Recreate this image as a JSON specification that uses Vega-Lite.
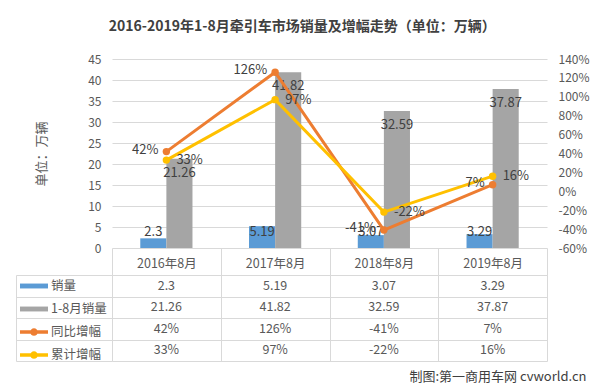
{
  "$schema": "https://vega.github.io/schema/vega-lite/v6.json",
  "padding": {"left": 15, "top": 20, "right": 5, "bottom": 2},
  "background": "white",
  "config": {
    "font": "Noto Sans CJK SC",
    "locale": {"number": {"decimal": ".", "thousands": ",", "grouping": [3], "currency": ["$", ""], "minus": "-"}},
    "view": {"stroke": null},
    "axis": {"labelColor": "#595959", "labelFontSize": 12, "domain": false, "ticks": false, "gridColor": "#d9d9d9", "labelOverlap": false}
  },
  "title": {"text": "2016-2019年1-8月牵引车市场销量及增幅走势（单位：万辆）", "fontSize": 14, "fontWeight": "bold", "color": "#404040", "anchor": "middle", "offset": 19},
  "datasets": {
    "d": [
      {"cat": "2016年8月", "series": "销量", "v": 2.3},
      {"cat": "2017年8月", "series": "销量", "v": 5.19},
      {"cat": "2018年8月", "series": "销量", "v": 3.07},
      {"cat": "2019年8月", "series": "销量", "v": 3.29},
      {"cat": "2016年8月", "series": "1-8月销量", "v": 21.26},
      {"cat": "2017年8月", "series": "1-8月销量", "v": 41.82},
      {"cat": "2018年8月", "series": "1-8月销量", "v": 32.59},
      {"cat": "2019年8月", "series": "1-8月销量", "v": 37.87},
      {"cat": "2016年8月", "series": "同比增幅", "v": 0.42},
      {"cat": "2017年8月", "series": "同比增幅", "v": 1.26},
      {"cat": "2018年8月", "series": "同比增幅", "v": -0.41},
      {"cat": "2019年8月", "series": "同比增幅", "v": 0.07},
      {"cat": "2016年8月", "series": "累计增幅", "v": 0.33},
      {"cat": "2017年8月", "series": "累计增幅", "v": 0.97},
      {"cat": "2018年8月", "series": "累计增幅", "v": -0.22},
      {"cat": "2019年8月", "series": "累计增幅", "v": 0.16}
    ]
  },
  "data": {"name": "d"},
  "bounds": "flush",
  "spacing": 27,
  "resolve": {"scale": {"color": "independent", "x": "independent", "y": "independent"}, "legend": {"color": "independent"}},
  "vconcat": [
    {
      "width": 435,
      "height": 189,
      "layer": [
        {
          "transform": [{"filter": {"field": "series", "oneOf": ["销量", "1-8月销量"]}}],
          "encoding": {
            "x": {"field": "cat", "type": "nominal", "sort": null, "axis": null, "scale": {"paddingInner": 0.52, "paddingOuter": 0.26}},
            "xOffset": {"field": "series", "type": "nominal", "scale": {"domain": ["销量", "1-8月销量"], "paddingInner": 0}}
          },
          "layer": [
            {
              "mark": {"type": "bar"},
              "encoding": {
                "y": {"field": "v", "type": "quantitative", "scale": {"domain": [0, 45]},
                  "axis": {"orient": "left", "values": [0, 5, 10, 15, 20, 25, 30, 35, 40, 45], "tickCount": 12, "grid": true, "labelPadding": 11,
                    "title": "单位：万辆", "titleFontSize": 13, "titleFontWeight": "normal", "titleColor": "#595959", "titlePadding": 39}},
                "color": {"field": "series", "type": "nominal", "legend": null,
                  "scale": {"domain": ["销量", "1-8月销量", "同比增幅", "累计增幅"], "range": ["#5b9bd5", "#a5a5a5", "#ed7d31", "#ffc000"]}}
              }
            },
            {
              "transform": [{"filter": {"field": "series", "equal": "销量"}}],
              "mark": {"type": "text", "baseline": "middle", "dy": -16, "fontSize": 13, "color": "#404040"},
              "encoding": {
                "y": {"datum": 0, "type": "quantitative"},
                "text": {"field": "v", "type": "nominal"}
              }
            },
            {
              "transform": [{"filter": {"field": "series", "equal": "1-8月销量"}}],
              "mark": {"type": "text", "baseline": "middle", "dy": 14, "fontSize": 13, "color": "#404040"},
              "encoding": {
                "y": {"field": "v", "type": "quantitative"},
                "text": {"field": "v", "type": "nominal"}
              }
            }
          ]
        },
        {
          "transform": [{"filter": {"field": "series", "oneOf": ["同比增幅", "累计增幅"]}}],
          "encoding": {
            "x": {"field": "cat", "type": "nominal", "sort": null, "axis": null}
          },
          "layer": [
            {
              "mark": {"type": "line", "strokeWidth": 3, "point": {"filled": true, "size": 55}},
              "encoding": {
                "y": {"field": "v", "type": "quantitative", "scale": {"domain": [-0.6, 1.4]},
                  "axis": {"orient": "right", "values": [-0.6, -0.4, -0.2, 0, 0.2, 0.4, 0.6, 0.8, 1.0, 1.2, 1.4], "tickCount": 12, "format": ".0%", "grid": false, "labelPadding": 11, "title": null}},
                "color": {"field": "series", "type": "nominal", "legend": null,
                  "scale": {"domain": ["销量", "1-8月销量", "同比增幅", "累计增幅"], "range": ["#5b9bd5", "#a5a5a5", "#ed7d31", "#ffc000"]}}
              }
            },
            {
              "transform": [{"filter": {"field": "series", "equal": "同比增幅"}}],
              "mark": {"type": "text", "baseline": "middle", "align": "right", "dx": -8, "dy": -2, "fontSize": 13, "color": "#404040"},
              "encoding": {
                "y": {"field": "v", "type": "quantitative"},
                "text": {"field": "v", "type": "quantitative", "format": ".0%"}
              }
            },
            {
              "transform": [{"filter": {"field": "series", "equal": "累计增幅"}}],
              "mark": {"type": "text", "baseline": "middle", "align": "left", "dx": 10, "fontSize": 13, "color": "#404040"},
              "encoding": {
                "y": {"field": "v", "type": "quantitative"},
                "text": {"field": "v", "type": "quantitative", "format": ".0%"}
              }
            }
          ]
        }
      ],
      "resolve": {"scale": {"y": "independent"}}
    },
    {
      "width": 435,
      "height": 86,
      "title": {"text": "制图:第一商用车网 cvworld.cn", "orient": "bottom", "anchor": "end", "fontSize": 13, "fontWeight": "normal", "color": "#404040", "dx": 39, "offset": 9},
      "encoding": {
        "x": {"field": "cat", "type": "nominal", "sort": null, "scale": {"paddingInner": 0, "paddingOuter": 0},
          "axis": {"orient": "top", "title": null, "domain": true, "domainColor": "#d9d9d9", "ticks": true, "tickSize": 27, "tickColor": "#d9d9d9", "tickBand": "extent",
            "grid": true, "gridColor": "#d9d9d9", "labelPadding": -15, "labelBaseline": "middle", "labelAngle": 0, "labelFontSize": 12.5}},
        "y": {"field": "series", "type": "nominal", "scale": {"domain": ["销量", "1-8月销量", "同比增幅", "累计增幅"], "paddingInner": 0, "paddingOuter": 0},
          "axis": {"orient": "left", "title": null, "offset": 96, "domain": true, "domainColor": "#d9d9d9", "ticks": true, "tickSize": -96, "tickColor": "#d9d9d9", "tickBand": "extent",
            "labels": false, "grid": true, "gridColor": "#d9d9d9"}}
      },
      "layer": [
        {
          "mark": {"type": "point", "filled": true, "opacity": 0},
          "encoding": {
            "color": {"field": "series", "type": "nominal",
              "scale": {"domain": ["销量", "1-8月销量", "同比增幅", "累计增幅"], "range": ["#5b9bd5", "#a5a5a5", "#ed7d31", "#ffc000"]},
              "legend": {"orient": "none", "legendX": -85, "legendY": 4, "direction": "vertical", "title": null, "labelFontSize": 12.5, "labelColor": "#595959",
                "symbolSize": 196, "symbolOpacity": 1, "symbolStrokeWidth": 0, "labelOffset": 10, "rowPadding": 9, "padding": 0,
                "encode": {"symbols": {"update": {"shape": {"signal": "(datum.value === '销量' || datum.value === '1-8月销量') ? 'M-2,-0.35H2V0.35H-2Z' : 'M-2,-0.25H2V0.25H-2Z M-0.55,0A0.55,0.55 0 1,1 0.55,0A0.55,0.55 0 1,1 -0.55,0Z'"}}}}}
            }
          }
        },
        {
          "transform": [{"filter": {"field": "series", "oneOf": ["销量", "1-8月销量"]}}],
          "mark": {"type": "text", "baseline": "middle", "fontSize": 12.5, "color": "#595959"},
          "encoding": {"text": {"field": "v", "type": "nominal"}}
        },
        {
          "transform": [{"filter": {"field": "series", "oneOf": ["同比增幅", "累计增幅"]}}],
          "mark": {"type": "text", "baseline": "middle", "fontSize": 12.5, "color": "#595959"},
          "encoding": {"text": {"field": "v", "type": "quantitative", "format": ".0%"}}
        }
      ]
    }
  ]
}
